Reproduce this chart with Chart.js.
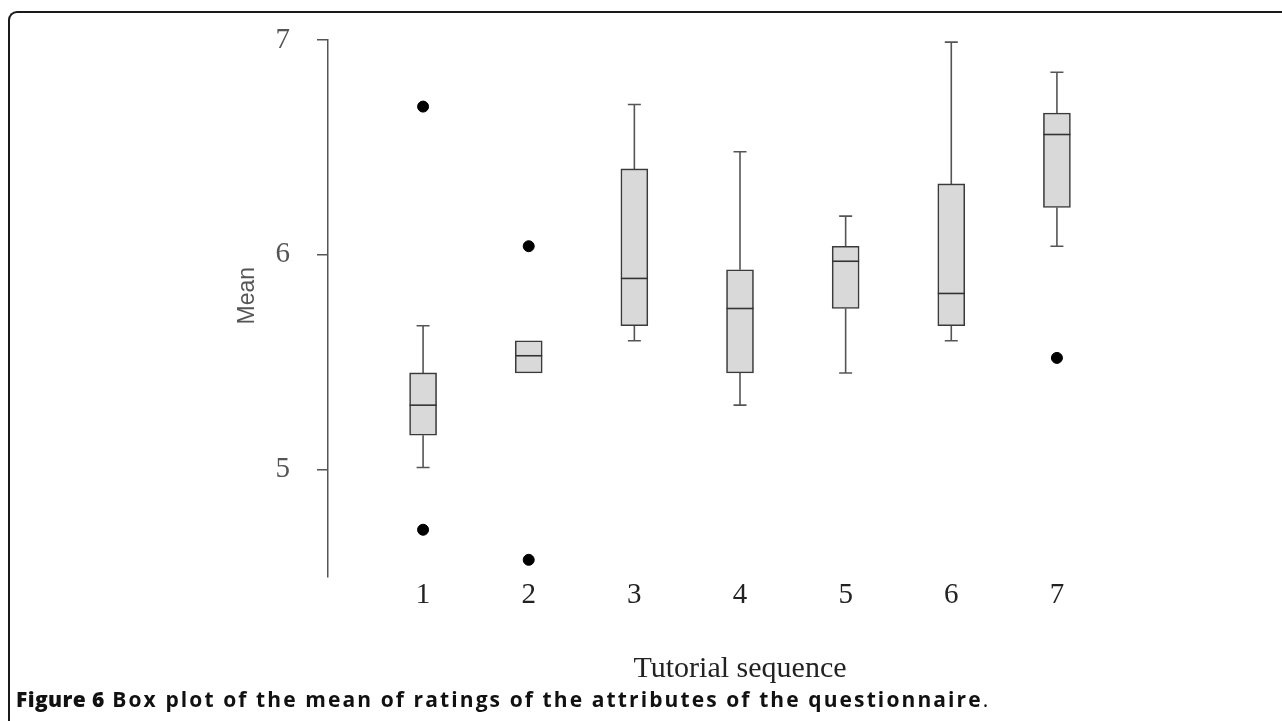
<!DOCTYPE html>
<html>
<head>
<meta charset="utf-8">
<script src="https://cdn.jsdelivr.net/npm/chart.js@4.4.1/dist/chart.umd.min.js"></script>
<style>
  html, body { margin: 0; padding: 0; background: #fff; }
  body { width: 1282px; height: 721px; position: relative; overflow: hidden; }
  .frame {
    position: absolute; left: 8px; top: 11px; right: -10px; bottom: -10px;
    border-top: 2px solid #1a1a1a; border-left: 2px solid #1a1a1a;
    border-top-left-radius: 9px;
  }
  .plot { position: absolute; left: 0; top: 0; width: 1282px; height: 690px; }
  .caption {
    position: absolute; left: 16px; top: 685px;
    font-family: "Open Sans", "Noto Sans", sans-serif; font-size: 21px;
    letter-spacing: 2.1px; word-spacing: 0px;
    color: #111; font-weight: 700; white-space: nowrap;
  }
  .caption b { font-weight: 800; letter-spacing: 0.4px; }
  .caption span { font-weight: 400; }
</style>
</head>
<body>
<div class="frame"></div>
<div class="plot"><canvas id="boxChart" width="1282" height="690"></canvas></div>
<div class="caption"><b>Figure 6</b> Box plot of the mean of ratings of the attributes of the questionnaire<span>.</span></div>

<script>
// tutorial sequence (x) and box statistics
const categories  = [1, 2, 3, 4, 5, 6, 7];
const xLabels     = ["1", "2", "3", "4", "5", "6", "7"];
const whiskerLow  = [5.01, 5.45, 5.60, 5.30, 5.45, 5.60, 6.04];
const q1          = [5.16, 5.45, 5.67, 5.45, 5.75, 5.67, 6.22];
const median      = [5.30, 5.53, 5.89, 5.75, 5.97, 5.82, 6.56];
const q3          = [5.45, 5.60, 6.40, 5.93, 6.04, 6.33, 6.66];
const whiskerHigh = [5.67, 5.60, 6.70, 6.48, 6.18, 6.99, 6.85];

// outliers
const outlierX = [1, 1, 2, 2, 7];
const outlierY = [6.69, 4.72, 6.04, 4.58, 5.52];

const yTicks = [5, 6, 7];

(() => {
  "use strict";

  const BOX_W = 27;
  const CAP_W = 13;

  // whiskers under the boxes, medians on top
  const boxLines = {
    id: "boxLines",
    beforeDatasetsDraw(chart) {
      const { ctx, scales: { x, y } } = chart;
      ctx.save();
      ctx.strokeStyle = "#555";
      ctx.lineWidth = 1.6;
      categories.forEach((c, i) => {
        const px = x.getPixelForValue(c);
        const segs = [[q3[i], whiskerHigh[i]], [q1[i], whiskerLow[i]]];
        segs.forEach(([from, to]) => {
          if (from === to) return;
          const y0 = y.getPixelForValue(from);
          const y1 = y.getPixelForValue(to);
          ctx.beginPath();
          ctx.moveTo(px, y0);
          ctx.lineTo(px, y1);
          ctx.moveTo(px - CAP_W / 2, y1);
          ctx.lineTo(px + CAP_W / 2, y1);
          ctx.stroke();
        });
      });
      ctx.restore();
    },
    afterDatasetsDraw(chart) {
      const { ctx, scales: { x, y } } = chart;
      ctx.save();
      ctx.strokeStyle = "#333";
      ctx.lineWidth = 1.6;
      categories.forEach((c, i) => {
        const px = x.getPixelForValue(c);
        const py = y.getPixelForValue(median[i]);
        ctx.beginPath();
        ctx.moveTo(px - BOX_W / 2, py);
        ctx.lineTo(px + BOX_W / 2, py);
        ctx.stroke();
      });
      ctx.restore();
    },
  };

  const ctx = document.getElementById("boxChart").getContext("2d");

  new Chart(ctx, {
    type: "bar",
    data: {
      datasets: [
        {
          label: "IQR",
          data: categories.map((c, i) => ({ x: c, y: [q1[i], q3[i]] })),
          backgroundColor: "#d9d9d9",
          borderColor: "#3a3a3a",
          borderWidth: 1.6,
          borderSkipped: false,
          barThickness: BOX_W,
        },
        {
          type: "scatter",
          label: "Outliers",
          data: outlierX.map((v, i) => ({ x: v, y: outlierY[i] })),
          backgroundColor: "#000",
          borderColor: "#000",
          pointRadius: 5.5,
          pointHoverRadius: 5.5,
        },
      ],
    },
    options: {
      responsive: false,
      animation: false,
      events: [],
      layout: { padding: { left: 220, right: 130, top: 40, bottom: 3 } },
      plugins: { legend: { display: false }, tooltip: { enabled: false } },
      scales: {
        x: {
          type: "linear",
          offset: false,
          min: 0.1,
          max: 7.9,
          afterBuildTicks: (s) => { s.ticks = categories.map((v) => ({ value: v })); },
          afterFit: (s) => { s.height = 110; s.paddingLeft = 0; s.paddingRight = 0; },
          grid: { display: false, drawTicks: false },
          border: { display: false },
          ticks: {
            padding: 1,
            color: "#222",
            font: { family: "'Liberation Serif', 'DejaVu Serif', serif", size: 29 },
            callback: (v, i) => xLabels[i],
          },
          title: {
            display: true,
            text: "Tutorial sequence",
            color: "#222",
            padding: { top: 0, bottom: 0 },
            font: { family: "'Liberation Serif', 'DejaVu Serif', serif", size: 30 },
          },
        },
        y: {
          min: 4.5,
          max: 7,
          afterBuildTicks: (s) => { s.ticks = yTicks.map((v) => ({ value: v })); },
          afterFit: (s) => { s.width = 108; s.paddingTop = 0; s.paddingBottom = 0; },
          grid: { drawOnChartArea: false, drawTicks: true, tickLength: 11, color: "#555", lineWidth: 1.5 },
          border: { display: true, color: "#555", width: 1.5 },
          ticks: {
            padding: 27,
            color: "#555",
            font: { family: "'Liberation Serif', 'DejaVu Serif', serif", size: 29 },
          },
          title: {
            display: true,
            text: "    Mean",
            color: "#555",
            padding: { top: 14, bottom: 0 },
            font: { family: "'Liberation Sans', Arial, sans-serif", size: 23 },
          },
        },
      },
    },
    plugins: [boxLines],
  });
})();
</script>
</body>
</html>
